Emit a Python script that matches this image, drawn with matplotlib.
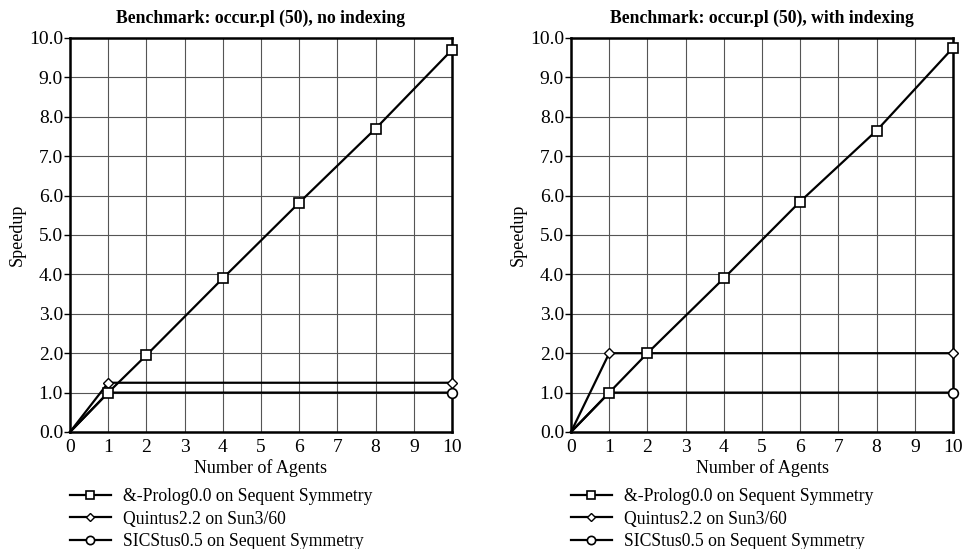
import matplotlib
matplotlib.use('Agg')
import matplotlib.pyplot as plt

plt.rcParams['font.family'] = ['Liberation Serif', 'DejaVu Serif']

agents_prolog = [0, 1, 2, 4, 6, 8, 10]
agents_flat = [0, 1, 10]

prolog_noidx = [0.0, 1.0, 1.95, 3.9, 5.82, 7.7, 9.7]
quintus_noidx = [0.0, 1.25, 1.25]
sicstus_noidx = [0.0, 1.0, 1.0]

prolog_idx = [0.0, 1.0, 2.0, 3.9, 5.85, 7.65, 9.75]
quintus_idx = [0.0, 2.0, 2.0]
sicstus_idx = [0.0, 1.0, 1.0]

titles = ['Benchmark: occur.pl (50), no indexing',
          'Benchmark: occur.pl (50), with indexing']
labels = ['&-Prolog0.0 on Sequent Symmetry',
          'Quintus2.2 on Sun3/60',
          'SICStus0.5 on Sequent Symmetry']

fig = plt.figure(figsize=(9.64, 5.49), dpi=100)
positions = [[70 / 964, 1 - 432 / 549, 382 / 964, 394 / 549],
             [571 / 964, 1 - 432 / 549, 382 / 964, 394 / 549]]
series = [(prolog_noidx, quintus_noidx, sicstus_noidx),
          (prolog_idx, quintus_idx, sicstus_idx)]

for pos, title, (pro, qui, sic) in zip(positions, titles, series):
    ax = fig.add_axes(pos)
    h1, = ax.plot(agents_prolog, pro, color='black', lw=1.6, marker='s', ms=7,
                  mfc='white', mec='black', mew=1.2, markevery=range(1, 7),
                  zorder=5, clip_on=False)
    h2, = ax.plot(agents_flat, qui, color='black', lw=1.6, marker='D', ms=5,
                  mfc='white', mec='black', mew=1.0, markevery=[1, 2],
                  zorder=4, clip_on=False)
    h3, = ax.plot(agents_flat, sic, color='black', lw=1.6, marker='o', ms=7,
                  mfc='white', mec='black', mew=1.2, markevery=[2],
                  zorder=4, clip_on=False)
    ax.set_xlim(0, 10)
    ax.set_ylim(0, 10)
    ax.set_xticks(range(0, 11))
    ax.set_yticks(range(0, 11))
    ax.set_yticklabels([f'{v:.1f}' for v in range(0, 11)])
    ax.grid(True, color='#555555', lw=0.8)
    for s in ax.spines.values():
        s.set_linewidth(1.8)
    ax.tick_params(axis='both', labelsize=14, direction='out', length=4, width=1, pad=1)
    ax.tick_params(axis='x', length=0, pad=5)
    ax.set_title(title, fontsize=12.7, fontweight='bold', pad=11)
    ax.set_xlabel('Number of Agents', fontsize=13, labelpad=2)
    ax.set_ylabel('Speedup', fontsize=13, labelpad=2)
    ax.legend([h1, h2, h3], labels, loc='upper left', bbox_to_anchor=(0.0, -0.143),
              frameon=False, fontsize=12.7, handlelength=2.3, handletextpad=0.7,
              labelspacing=0.3, borderpad=0, borderaxespad=0, markerscale=0.85)

fig.savefig('out.png', dpi=100)
